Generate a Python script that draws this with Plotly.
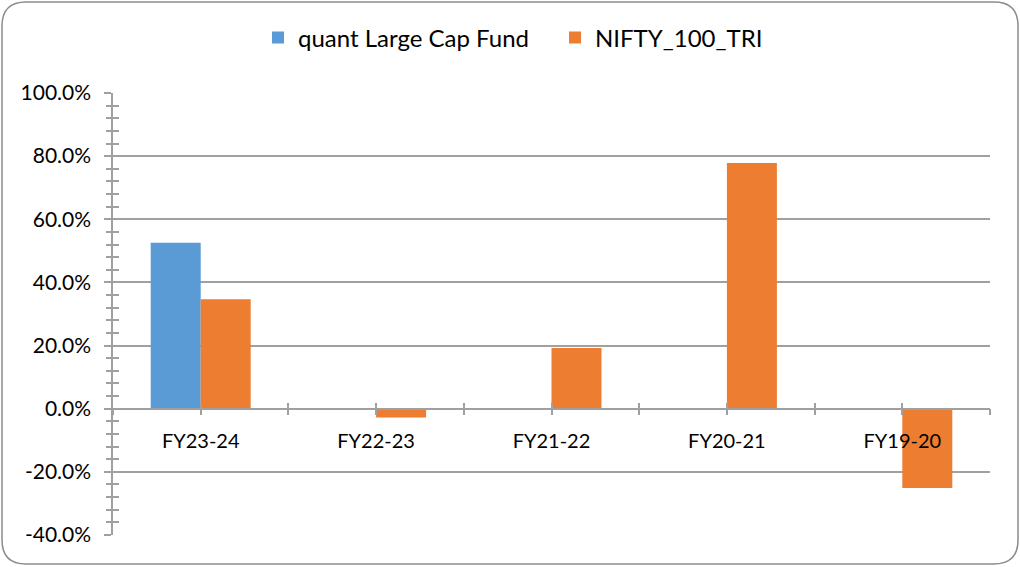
import plotly.graph_objects as go

# ---- data ----
categories = ["FY23-24", "FY22-23", "FY21-22", "FY20-21", "FY19-20"]
fund_values = [0.526, None, None, None, None]
index_values = [0.347, -0.028, 0.192, 0.778, -0.251]
series_names = ["quant Large Cap Fund", "NIFTY_100_TRI"]
y_tick_vals = [-0.4, -0.2, 0.0, 0.2, 0.4, 0.6, 0.8, 1.0]
y_tick_text = ["-40.0%", "-20.0%", "0.0%", "20.0%", "40.0%", "60.0%", "80.0%", "100.0%"]

W, H = 1020, 567
L, R, T, B = 113, 30, 93, 32
FONT = "Lato"
GRID = "#a0a0a0"

x_pos = list(range(len(categories)))
half_ticks = [i * 0.5 - 0.5 for i in range(2 * len(categories) + 1)]
half_text = []
for i in range(2 * len(categories) + 1):
    half_text.append(categories[i // 2] if i % 2 == 1 else "")

fig = go.Figure()
fig.add_trace(go.Bar(x=x_pos, y=fund_values, name=series_names[0],
                     marker=dict(color="#5B9BD5", line=dict(width=0))))
fig.add_trace(go.Bar(x=x_pos, y=index_values, name=series_names[1],
                     marker=dict(color="#ED7D31", line=dict(width=0))))
# helper (empty) trace to create the overlay axes used for crossing ticks
fig.add_trace(go.Scatter(x=[None], y=[None], xaxis="x2", yaxis="y2",
                         showlegend=False, hoverinfo="skip"))

ymin, ymax = -0.4, 1.0
zero_pos = (0 - ymin) / (ymax - ymin)

# rounded border (paper coordinates computed from pixels)
pw, ph = W - L - R, H - T - B
def px(x): return (x - L) / pw
def py(y): return 1 - (y - T) / ph
x0, x1, y0, y1, r = 2, 1018, 2, 564, 24
path = (f"M {px(x0+r)},{py(y0)} L {px(x1-r)},{py(y0)} Q {px(x1)},{py(y0)} {px(x1)},{py(y0+r)} "
        f"L {px(x1)},{py(y1-r)} Q {px(x1)},{py(y1)} {px(x1-r)},{py(y1)} "
        f"L {px(x0+r)},{py(y1)} Q {px(x0)},{py(y1)} {px(x0)},{py(y1-r)} "
        f"L {px(x0)},{py(y0+r)} Q {px(x0)},{py(y0)} {px(x0+r)},{py(y0)} Z")

fig.update_layout(
    width=W, height=H,
    margin=dict(l=L, r=R, t=T, b=B),
    paper_bgcolor="white", plot_bgcolor="white",
    font=dict(family=FONT, size=20, color="#000000"),
    barmode="group", bargap=0.43, bargroupgap=0,
    showlegend=True,
    legend=dict(orientation="h", xref="container", yref="container",
                x=0.5 + 45 / W, xanchor="center", y=1 - 38 / H, yanchor="middle",
                font=dict(family=FONT, size=24), itemwidth=30, entrywidth=252,
                traceorder="normal", bgcolor="rgba(0,0,0,0)"),
    xaxis=dict(range=[-0.5, len(categories) - 0.5], tickvals=half_ticks, ticktext=half_text,
               anchor="free", position=zero_pos,
               showline=True, linecolor=GRID, linewidth=1.5,
               ticks="outside", ticklen=6, tickcolor=GRID, tickwidth=1.5,
               ticklabelstandoff=9, showgrid=False, zeroline=False,
               tickfont=dict(family=FONT, size=20)),
    xaxis2=dict(range=[-0.5, len(categories) - 0.5], tickvals=half_ticks,
                overlaying="x", anchor="free", position=zero_pos,
                showticklabels=False, ticks="inside", ticklen=6, tickcolor=GRID,
                tickwidth=1.5, showline=False, showgrid=False, zeroline=False),
    yaxis=dict(range=[ymin, ymax], tickvals=y_tick_vals, ticktext=y_tick_text,
               showline=True, linecolor=GRID, linewidth=1.5,
               ticks="outside", ticklen=7, tickcolor=GRID, tickwidth=1.5,
               showgrid=True, gridcolor=GRID, gridwidth=1.5, zeroline=False,
               ticklabelstandoff=9,
               minor=dict(dtick=0.04, tick0=0, ticks="outside", ticklen=5,
                          tickcolor=GRID, tickwidth=1.5, showgrid=False),
               tickfont=dict(family=FONT, size=21)),
    yaxis2=dict(range=[ymin, ymax], overlaying="y", anchor="x",
                showticklabels=False, ticks="", showline=False, showgrid=False,
                zeroline=False,
                minor=dict(dtick=0.04, tick0=0, ticks="inside", ticklen=6,
                           tickcolor=GRID, tickwidth=1.5, showgrid=False)),
    shapes=[dict(type="path", xref="paper", yref="paper", path=path,
                 line=dict(color="#8c8c8c", width=1.5), fillcolor="rgba(0,0,0,0)",
                 layer="above")],
)

fig.write_html("out.html", config={"displayModeBar": False},
               post_script="document.body.style.margin='0';document.body.style.padding='0';")
